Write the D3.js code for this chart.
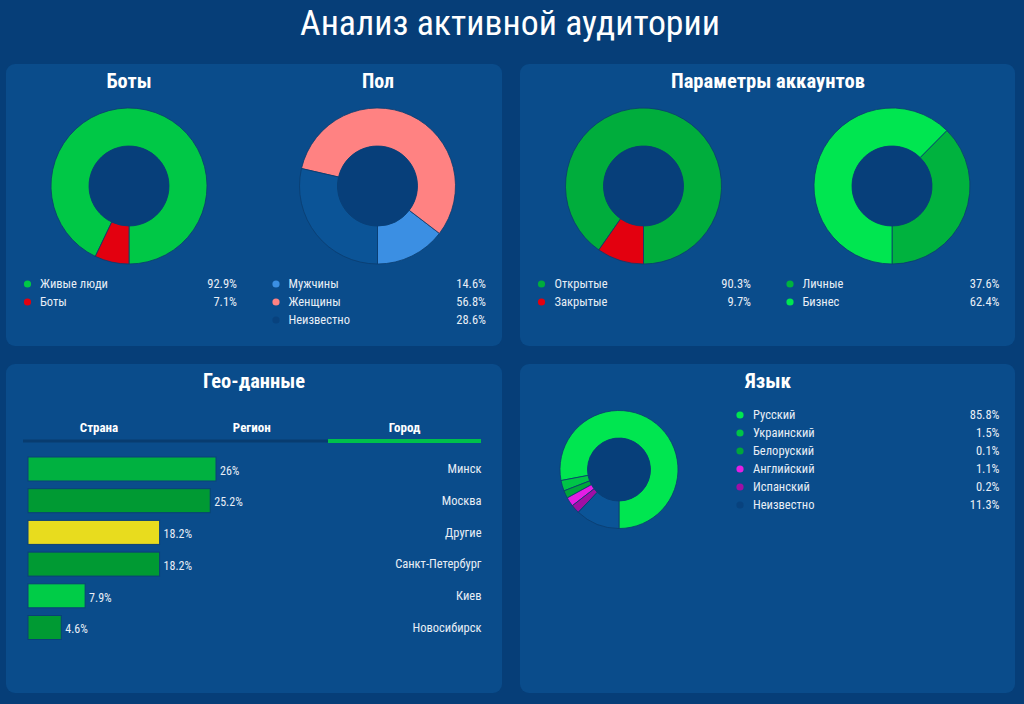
<!DOCTYPE html>
<html><head><meta charset="utf-8">
<script src="https://cdn.jsdelivr.net/npm/d3@7/dist/d3.min.js"></script>
<style>
html,body{margin:0;padding:0;background:#063e78;}
svg{display:block;}
text{font-family:"Roboto Condensed","Roboto","Noto Sans",sans-serif;}
</style></head>
<body>
<svg id="c" width="1024" height="704"></svg>
<script>
// ---- DATA ----
const pageTitle = "Анализ активной аудитории";
const botsLabels = ["Живые люди", "Боты"];
const botsValues = [92.9, 7.1];
const genderLabels = ["Мужчины", "Женщины", "Неизвестно"];
const genderValues = [14.6, 56.8, 28.6];
const accessLabels = ["Открытые", "Закрытые"];
const accessValues = [90.3, 9.7];
const typeLabels = ["Личные", "Бизнес"];
const typeValues = [37.6, 62.4];
const geoTabs = ["Страна", "Регион", "Город"];
const cities = ["Минск", "Москва", "Другие", "Санкт-Петербург", "Киев", "Новосибирск"];
const cityValues = [26, 25.2, 18.2, 18.2, 7.9, 4.6];
const cityValueLabels = ["26%", "25.2%", "18.2%", "18.2%", "7.9%", "4.6%"];
const langLabels = ["Русский", "Украинский", "Белоруский", "Английский", "Испанский", "Неизвестно"];
const langValues = [85.8, 1.5, 0.1, 1.1, 0.2, 11.3];
// slice sizes as drawn in the donut (small slices are drawn larger than their share)
const langSliceShares = [78.0, 2.9, 2.1, 2.5, 2.4, 12.1];

// ---- STYLE ----
const C = {
  panel: "#0a4c8b", hole: "#073f7a", text: "#e8eef6", sep: "#0a3c6e"
};
const botsColors = ["#00c846", "#e3000f"];
const genderColors = ["#3b8fe3", "#ff8282", "#0b5497"];
const genderDot = ["#3b8fe3", "#ff8282", "#08427e"];
const accessColors = ["#00ad3c", "#e3000f"];
const typeColors = ["#00b23e", "#00e650"];
const cityColors = ["#00b140", "#009a33", "#e8dc1e", "#009a33", "#00cc47", "#009a33"];
const langColors = ["#00e650", "#00c447", "#00a63b", "#e41ee4", "#a00fa5", "#0b5497"];
const langDot = ["#00e650", "#00c447", "#00a63b", "#e41ee4", "#a00fa5", "#08427e"];

const svg = d3.select("#c");

// title
svg.append("text").attr("x", 510).attr("y", 35).attr("text-anchor", "middle")
  .attr("fill", "#ffffff").attr("font-size", 35).attr("font-weight", 400)
  .attr("textLength", 420).attr("lengthAdjust", "spacingAndGlyphs").text(pageTitle);

// panels
const panels = [[6, 64, 496, 282], [520, 64, 495, 282], [6, 364, 496, 329], [520, 364, 495, 329]];
svg.selectAll("rect.panel").data(panels).join("rect").attr("class", "panel")
  .attr("x", d => d[0]).attr("y", d => d[1]).attr("width", d => d[2]).attr("height", d => d[3])
  .attr("rx", 9).attr("fill", C.panel);

function heading(x, y, txt, w) {
  svg.append("text").attr("x", x).attr("y", y).attr("text-anchor", "middle")
    .attr("fill", "#ffffff").attr("font-size", 21).attr("font-weight", 700)
    .attr("textLength", w).attr("lengthAdjust", "spacingAndGlyphs").text(txt);
}
heading(129, 88, "Боты", 45);
heading(378, 88, "Пол", 32);
heading(768, 88, "Параметры аккаунтов", 194);
heading(254, 388, "Гео-данные", 102);
heading(768, 388, "Язык", 46);

function donut(cx, cy, ro, ri, values, colors) {
  const g = svg.append("g").attr("transform", `translate(${cx},${cy})`);
  const pie = d3.pie().sort(null).startAngle(Math.PI).endAngle(-Math.PI);
  const arc = d3.arc().innerRadius(ri).outerRadius(ro);
  g.selectAll("path").data(pie(values)).join("path")
    .attr("d", arc).attr("fill", (d, i) => colors[i])
    .attr("stroke", C.sep).attr("stroke-width", 0.8);
  g.append("circle").attr("r", ri).attr("fill", C.hole);
}
donut(129, 186, 78, 40, botsValues, botsColors);
donut(377.5, 186, 78, 40, genderValues, genderColors);
donut(643.5, 186, 78, 40, accessValues, accessColors);
donut(892, 186, 78, 40, typeValues, typeColors);
donut(619, 469.5, 59, 31.5, langSliceShares, langColors);

function legend(dotX, textX, valRight, y0, step, labels, values, dots) {
  const g = svg.append("g");
  const y = i => y0 + i * step;
  g.selectAll("circle").data(labels).join("circle")
    .attr("cx", dotX).attr("cy", (d, i) => y(i)).attr("r", 3.6).attr("fill", (d, i) => dots[i]);
  g.selectAll("text.l").data(labels).join("text").attr("class", "l")
    .attr("x", textX).attr("y", (d, i) => y(i)).attr("dy", "0.35em")
    .attr("fill", C.text).attr("font-size", 12.5).text(d => d);
  g.selectAll("text.v").data(values).join("text").attr("class", "v")
    .attr("x", valRight).attr("y", (d, i) => y(i)).attr("dy", "0.35em").attr("text-anchor", "end")
    .attr("fill", C.text).attr("font-size", 12.5).text(d => d + "%");
}
legend(27.5, 40, 237, 284, 18, botsLabels, botsValues, botsColors);
legend(276, 288.5, 486, 284, 18, genderLabels, genderValues, genderDot);
legend(541.5, 554.5, 751, 284, 18, accessLabels, accessValues, accessColors);
legend(790, 802.5, 999.5, 284, 18, typeLabels, typeValues, typeColors);
legend(740, 753, 999.5, 415, 18, langLabels, langValues, langDot);

// geo tabs
const tabX = d3.scalePoint().domain(geoTabs).range([99, 404.5]);
svg.selectAll("text.tab").data(geoTabs).join("text").attr("class", "tab")
  .attr("x", d => tabX(d)).attr("y", 427).attr("dy", "0.35em").attr("text-anchor", "middle")
  .attr("fill", "#ffffff").attr("font-size", 13).attr("font-weight", 700).text(d => d);
svg.append("rect").attr("x", 23).attr("y", 439.5).attr("width", 305).attr("height", 3).attr("fill", "#083c70");
svg.append("rect").attr("x", 328).attr("y", 439).attr("width", 153).attr("height", 4).attr("fill", "#00c04b");

// bars
const x = d3.scaleLinear().domain([0, 26]).range([0, 188]);
const y = d3.scaleBand().domain(cities).range([453.15, 643.35]).paddingInner(0.243).paddingOuter(0.1215);
const bars = svg.append("g");
bars.selectAll("rect").data(cities).join("rect")
  .attr("x", 28).attr("y", d => y(d)).attr("width", (d, i) => x(cityValues[i])).attr("height", y.bandwidth())
  .attr("fill", (d, i) => cityColors[i]).attr("stroke", "#0a4078").attr("stroke-width", 1);
bars.selectAll("text.val").data(cities).join("text").attr("class", "val")
  .attr("x", (d, i) => 28 + x(cityValues[i]) + 4).attr("y", d => y(d) + y.bandwidth() / 2 + 1.5)
  .attr("dy", "0.35em").attr("fill", C.text).attr("font-size", 12).text((d, i) => cityValueLabels[i]);
bars.selectAll("text.city").data(cities).join("text").attr("class", "city")
  .attr("x", 481.5).attr("y", d => y(d) + y.bandwidth() / 2)
  .attr("dy", "0.35em").attr("text-anchor", "end").attr("fill", C.text).attr("font-size", 12.5).text(d => d);
</script>
</body></html>
